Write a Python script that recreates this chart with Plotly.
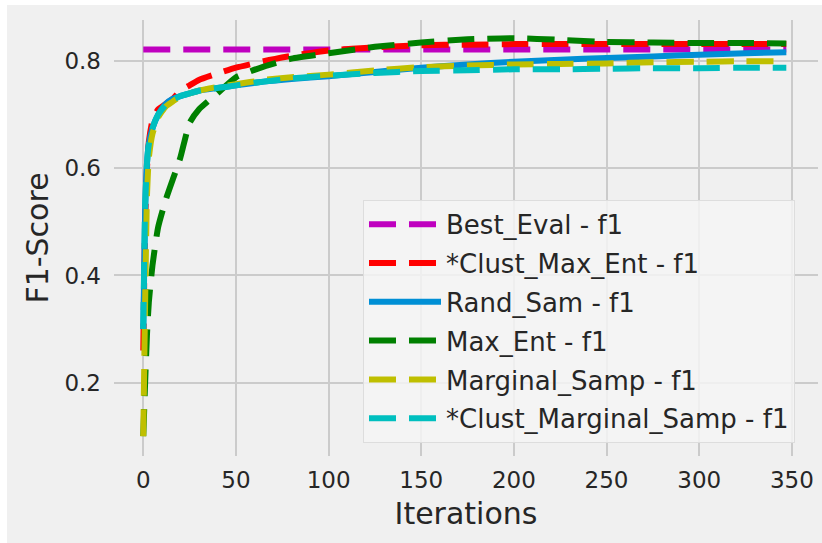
import plotly.graph_objects as go

# Sampled iterations and F1 scores per query strategy
iterations = [0, 1, 2, 3, 5, 8, 12, 16, 20, 25, 30, 40, 50, 65, 80, 100,
              125, 150, 175, 200, 225, 250, 275, 300, 325, 347]

best_eval_x = [0, 347]
best_eval_f1 = [0.822, 0.822]

clust_max_ent_f1 = [0.26, 0.50, 0.60, 0.65, 0.69, 0.71, 0.72, 0.73, 0.745, 0.755,
                    0.765, 0.777, 0.788, 0.800, 0.810, 0.820, 0.826, 0.830, 0.831,
                    0.832, 0.832, 0.832, 0.832, 0.832, 0.832, 0.832]

rand_sam_f1 = [0.30, 0.52, 0.61, 0.645, 0.675, 0.700, 0.720, 0.730, 0.735, 0.740,
               0.745, 0.750, 0.755, 0.762, 0.767, 0.772, 0.780, 0.788, 0.794,
               0.799, 0.803, 0.806, 0.809, 0.812, 0.815, 0.817]

max_ent_f1 = [0.10, 0.20, 0.29, 0.35, 0.42, 0.49, 0.54, 0.58, 0.62, 0.685,
              0.710, 0.740, 0.770, 0.790, 0.805, 0.815, 0.827, 0.835, 0.841,
              0.843, 0.840, 0.836, 0.835, 0.834, 0.834, 0.833]

marginal_samp_f1 = [0.10, 0.35, 0.55, 0.62, 0.665, 0.695, 0.715, 0.725, 0.735, 0.740,
                    0.745, 0.752, 0.757, 0.765, 0.770, 0.775, 0.783, 0.789, 0.792,
                    0.794, 0.795, 0.796, 0.798, 0.799, 0.800, 0.800]

clust_marginal_samp_f1 = [0.30, 0.53, 0.61, 0.645, 0.675, 0.700, 0.718, 0.728, 0.735, 0.740,
                          0.745, 0.750, 0.755, 0.762, 0.768, 0.773, 0.778, 0.782, 0.783,
                          0.785, 0.785, 0.786, 0.787, 0.787, 0.788, 0.788]

x_ticks = [0, 50, 100, 150, 200, 250, 300, 350]
y_ticks = [0.2, 0.4, 0.6, 0.8]

FONT = "DejaVu Sans"
DASH = "27px,13px"

series = [
    ("Best_Eval - f1", best_eval_x, best_eval_f1, "#bf00bf", DASH),
    ("*Clust_Max_Ent - f1", iterations, clust_max_ent_f1, "#ff0000", DASH),
    ("Rand_Sam - f1", iterations, rand_sam_f1, "#008fd5", "solid"),
    ("Max_Ent - f1", iterations, max_ent_f1, "#008000", DASH),
    ("Marginal_Samp - f1", iterations, marginal_samp_f1, "#bfbf00", DASH),
    ("*Clust_Marginal_Samp - f1", iterations, clust_marginal_samp_f1, "#00bfbf", DASH),
]

fig = go.Figure()
for i, (name, xs, ys, color, dash) in enumerate(series):
    fig.add_trace(go.Scatter(
        x=xs, y=ys, mode="lines", name=name, legendgroup=f"g{i}",
        line=dict(color=color, width=6, dash=dash, shape="spline", smoothing=0.5),
    ))

axis_common = dict(
    showgrid=True, gridcolor="#cbcbcb", gridwidth=1.5,
    zeroline=False, showline=False, ticks="",
    tickfont=dict(family=FONT, size=23, color="#262626"),
)

fig.update_layout(
    width=822, height=543,
    margin=dict(l=114, r=4, t=20, b=87),
    paper_bgcolor="#f0f0f0", plot_bgcolor="#f0f0f0",
    font=dict(family=FONT, color="#262626"),
    showlegend=True,
    legend=dict(
        x=0.3537, y=0.5876, xanchor="left", yanchor="top",
        bgcolor="rgba(245,245,245,0.85)", bordercolor="#dddddd", borderwidth=1,
        font=dict(family=FONT, size=26, color="#262626"),
        tracegroupgap=2, itemwidth=72,
    ),
    xaxis=dict(
        range=[-15.8, 364.1], tickvals=x_ticks,
        ticklabelstandoff=8,
        title=dict(text="Iterations", font=dict(family=FONT, size=30, color="#262626"), standoff=10),
        **axis_common,
    ),
    yaxis=dict(
        range=[0.063, 0.877], tickvals=y_ticks, tickformat=".1f",
        ticklabelstandoff=12,
        title=dict(text="F1-Score", font=dict(family=FONT, size=30, color="#262626"), standoff=6),
        **axis_common,
    ),
)

# Thin white strips along the left and top edges of the figure
fig.add_shape(type="rect", xref="paper", yref="paper",
              x0=-114 / 704, x1=-107 / 704, y0=-0.3, y1=1.2,
              fillcolor="white", line=dict(width=0), layer="above")
fig.add_shape(type="rect", xref="paper", yref="paper",
              x0=-0.2, x1=1.1, y0=1 + 15 / 436, y1=1.2,
              fillcolor="white", line=dict(width=0), layer="above")

fig.write_html("out.html")
